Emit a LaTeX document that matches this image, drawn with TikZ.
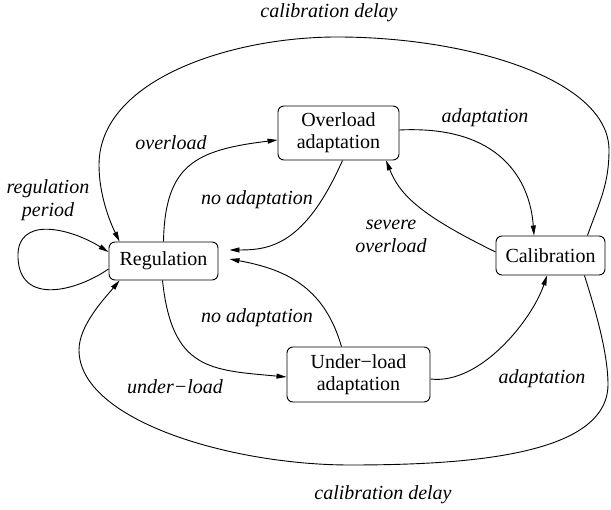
\documentclass[tikz,border=0pt]{standalone}
\usepackage{fontspec}
\setmainfont{Liberation Serif}
\newfontfamily\tms{Liberation Serif}
\usetikzlibrary{arrows.meta,calc}
\begin{document}
\begin{tikzpicture}[x=1pt,y=1pt,
  state/.style={draw,rounded corners=6pt,line width=0.9pt,inner sep=0pt,align=center,font=\tms\fontsize{20}{22}\selectfont},
  lbl/.style={inner sep=0pt,align=center,font=\tms\fontsize{20}{23}\selectfont\itshape},
  arr/.style={line width=0.9pt,-{Triangle[length=10pt,width=5pt]}}]
\useasboundingbox (0,-510) rectangle (611,0);
% states
\node[state,minimum width=109pt,minimum height=38pt] (reg) at (163.5,-261) {Regulation};
\node[state,minimum width=109pt,minimum height=39pt] (cal) at (550.5,-255.5) {Calibration};
\node[state,minimum width=121pt,minimum height=54pt] (ovl) at (338.5,-133) {Overload\\adaptation};
\node[state,minimum width=143pt,minimum height=55pt] (ull) at (358.5,-374.5) {Under−load\\adaptation};
% labels
\node[lbl] (l1) at (329,-13) {calibration delay};
\node[lbl] (l2) at (383,-495) {calibration delay};
\node[lbl] (l3) at (171,-143) {overload};
\node[lbl] (l4) at (485,-118) {adaptation};
\node[lbl] (l5) at (48,-200) {regulation\\period};
\node[lbl] (l6) at (257,-200) {no adaptation};
\node[lbl] (l7) at (391,-236) {severe\\overload};
\node[lbl] (l8) at (257,-318) {no adaptation};
\node[lbl] (l9) at (175,-387) {under−load};
\node[lbl] (l10) at (542,-379) {adaptation};
% edges
\draw[arr] ($(cal.north east)+(-18,0)$) .. controls (599,-203) and (609,-185) .. (609,-150)
  .. controls (609,-80) and (470,-37) .. (337,-37)
  .. controls (230,-37) and (99,-80) .. (99,-165)
  .. controls (99,-195) and (110,-222) .. ($(reg.north west)+(11,0)$);
\draw[arr] ($(cal.south east)+(-21,0)$) .. controls (593,-303) and (608,-350) .. (608,-385)
  .. controls (607,-455) and (470,-465) .. (350,-465)
  .. controls (230,-465) and (79,-420) .. (79,-350)
  .. controls (79,-325) and (105,-298) .. ($(reg.south west)+(11,0)$);
\draw[arr] ($(reg.west)+(0,-8)$) .. controls (75,-292) and (20,-305) .. (18,-258)
  .. controls (16,-215) and (70,-228) .. ($(reg.west)+(0,9)$);
\draw[arr] (reg.north) .. controls (165,-165) and (195,-150) .. ($(ovl.west)+(0,-7)$);
\draw[arr] ($(ovl.south)+(4,0)$) .. controls (305,-245) and (270,-250) .. ($(reg.east)+(11,11)$);
\draw[arr] ($(ull.north)+(-17,0)$) .. controls (325,-290) and (290,-270) .. ($(reg.east)+(11,2)$);
\draw[arr] ($(reg.south)+(-1,0)$) .. controls (172,-370) and (210,-370) .. ($(ull.west)+(0,-2.5)$);
\draw[arr] ($(ovl.east)+(0,3)$) .. controls (500,-125) and (530,-180) .. ($(cal.north)+(-16.5,0)$);
\draw[arr] ($(ull.east)+(0,-4.5)$) .. controls (480,-385) and (532,-320) .. ($(cal.south)+(-3.5,0)$);
\draw[arr] ($(cal.west)+(0,3.5)$) .. controls (420,-215) and (400,-195) .. ($(ovl.south)+(47.5,0)$);
\end{tikzpicture}
\end{document}
